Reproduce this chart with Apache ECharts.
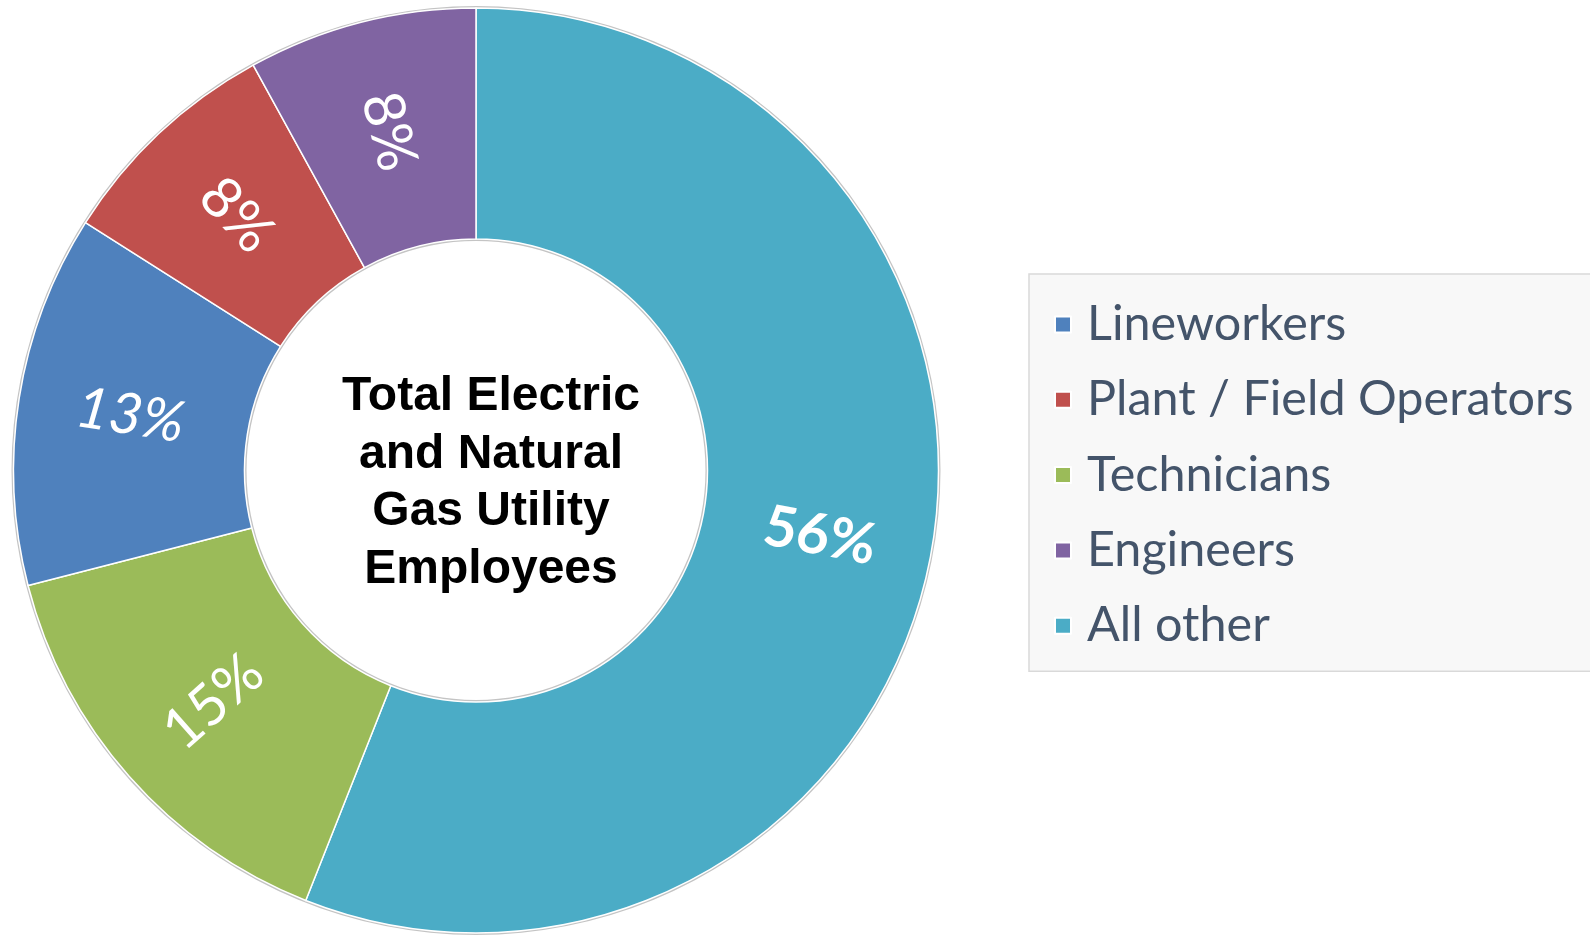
<!DOCTYPE html>
<html>
<head>
<meta charset="utf-8">
<script src="https://cdn.jsdelivr.net/npm/echarts@6/dist/echarts.min.js"></script>
<style>
  html, body { margin: 0; padding: 0; background: #ffffff; }
  #chart { width: 1590px; height: 937px; }
</style>
</head>
<body>
<div id="chart"></div>
<script>
// Workforce shares, drawn clockwise from 12 o'clock
const categories = ['All other', 'Technicians', 'Lineworkers', 'Plant / Field Operators', 'Engineers'];
const shares = [56, 15, 13, 8, 8];
const colors = ['#4BACC6', '#9BBB59', '#4F81BD', '#C0504D', '#8064A2'];
// Label weight / style per slice
const labelWeights = ['bold', 'normal', 'normal', 'normal', 'normal'];
const labelStyles = ['normal', 'normal', 'italic', 'normal', 'normal'];
// Legend listing order
const legendOrder = ['Lineworkers', 'Plant / Field Operators', 'Technicians', 'Engineers', 'All other'];
const centerTitle = ['Total Electric', 'and Natural', 'Gas Utility', 'Employees'];

const chart = echarts.init(document.getElementById('chart'), null, { renderer: 'canvas' });

const pieData = categories.map((name, i) => ({
  name: name,
  value: shares[i],
  itemStyle: { color: colors[i] },
  label: { fontWeight: labelWeights[i], fontStyle: labelStyles[i] }
}));

const centre = [476, 470.5];

chart.setOption({
  animation: false,
  backgroundColor: '#ffffff',
  legend: {
    orient: 'vertical',
    left: 1029,
    top: 274,
    data: legendOrder,
    icon: 'rect',
    itemWidth: 16,
    itemHeight: 16,
    itemGap: 26.3,
    padding: [26, 120, 21, 25],
    backgroundColor: '#F8F8F8',
    borderColor: '#D9D9D9',
    borderWidth: 1.5,
    selectedMode: false,
    textStyle: {
      fontFamily: 'Lato',
      fontSize: 48.5,
      lineHeight: 48,
      color: '#44546A',
      padding: [0, 0, 0, 11]
    }
  },
  graphic: [{
    type: 'text',
    x: 491,
    y: 483.5,
    style: {
      text: centerTitle.join('\n'),
      font: 'bold 48px "Liberation Sans", Arial, sans-serif',
      lineHeight: 57.5,
      fill: '#000000',
      align: 'center',
      verticalAlign: 'middle'
    },
    z: 10
  }],
  series: [
    {
      // thin grey outline around the ring
      type: 'pie',
      silent: true,
      center: centre,
      radius: [229.5, 464.5],
      startAngle: 90,
      label: { show: false },
      labelLine: { show: false },
      itemStyle: { color: '#C4C4C4', borderWidth: 0 },
      data: [{ name: 'outline', value: 1 }],
      z: 1
    },
    {
      type: 'pie',
      center: centre,
      radius: [231.5, 462.5],
      startAngle: 90,
      clockwise: true,
      avoidLabelOverlap: false,
      itemStyle: { borderColor: '#ffffff', borderWidth: 1.5 },
      label: {
        show: true,
        position: 'inside',
        rotate: 'radial',
        formatter: '{c}%',
        color: '#ffffff',
        fontFamily: 'Lato',
        fontSize: 57
      },
      labelLine: { show: false },
      emphasis: { disabled: true },
      data: pieData,
      z: 2
    }
  ]
});
</script>
</body>
</html>
